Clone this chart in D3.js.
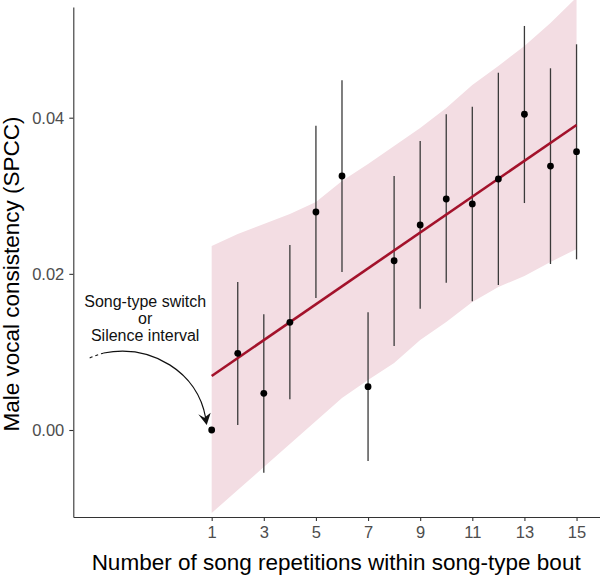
<!DOCTYPE html>
<html><head><meta charset="utf-8">
<script src="https://cdn.jsdelivr.net/npm/d3@7"></script>
<style>
html,body{margin:0;padding:0;background:#fff;}
svg{display:block;font-family:"Liberation Sans",Arial,Helvetica,sans-serif;}
</style></head>
<body><svg id="chart" width="600" height="577"></svg>
<script>
// ---- data ----
const reps      = [1,2,3,4,5,6,7,8,9,10,11,12,13,14,15];
const spcc      = [0.0000,0.00982,0.00470,0.01379,0.02792,0.03253,0.00555,0.02168,0.02626,0.02959,0.02895,0.03215,0.04044,0.03381,0.03565];
const errHigh   = [null,0.01896,0.01482,0.02370,0.03898,0.04479,0.01508,0.03253,0.03702,0.04044,0.04141,0.04576,0.05175,0.04633,0.04940];
const errLow    = [null,0.00064,-0.00547,0.00393,0.01691,0.02024,-0.00397,0.01076,0.01554,0.01887,0.01648,0.01857,0.02907,0.02126,0.02186];
const bandHigh  = [0.02357,0.02510,0.02638,0.02766,0.02920,0.03189,0.03407,0.03637,0.03868,0.04124,0.04419,0.04662,0.04919,0.05213,0.05540];
const bandLow   = [-0.01063,-0.00768,-0.00474,-0.00179,0.00115,0.00410,0.00640,0.00858,0.01153,0.01383,0.01639,0.01832,0.01972,0.02152,0.02318];
const fitX      = [1,15];
const fitY      = [0.00692,0.03907];
const xTicks    = [1,3,5,7,9,11,13,15];
const yTicks    = [0.00,0.02,0.04];
const annotationLines = ["Song-type switch","or","Silence interval"];
const xTitle = "Number of song repetitions within song-type bout";
const yTitle = "Male vocal consistency (SPCC)";

// ---- layout ----
const svg = d3.select("#chart");
const mLeft = 73.3, mRight = 600, mTop = 7, mBottom = 517;
const x = d3.scaleLinear().domain([-4.31, 15.9]).range([mLeft, mRight]);
const y = d3.scaleLinear().domain([-0.011143, 0.054179]).range([mBottom, mTop]);

// band
const bandData = reps.map((r,i)=>({r, lo: bandLow[i], hi: bandHigh[i]}));
svg.append("path")
  .datum(bandData)
  .attr("fill","#f3dde3")
  .attr("d", d3.area().x(d=>x(d.r)).y0(d=>y(d.lo)).y1(d=>y(d.hi)));

// error bars
const pts = reps.map((r,i)=>({r, v: spcc[i], lo: errLow[i], hi: errHigh[i]}));
svg.append("g").selectAll("line")
  .data(pts.filter(d=>d.lo!==null))
  .join("line")
  .attr("x1",d=>x(d.r)).attr("x2",d=>x(d.r))
  .attr("y1",d=>y(d.lo)).attr("y2",d=>y(d.hi))
  .attr("stroke","#3a3a3a").attr("stroke-width",1.3);

// fit line
svg.append("path")
  .datum(fitX.map((fx,i)=>[fx,fitY[i]]))
  .attr("fill","none").attr("stroke","#a3122b").attr("stroke-width",2.6)
  .attr("d", d3.line().x(d=>x(d[0])).y(d=>y(d[1])));

// points
svg.append("g").selectAll("circle")
  .data(pts).join("circle")
  .attr("cx",d=>x(d.r)).attr("cy",d=>y(d.v)).attr("r",3.4).attr("fill","#000");

// axes
const xAxis = d3.axisBottom(x).tickValues(xTicks).tickSize(4).tickSizeOuter(0).tickPadding(5).tickFormat(d3.format("d"));
const gx = svg.append("g").attr("transform",`translate(0,${mBottom})`).call(xAxis);
const yAxis = d3.axisLeft(y).tickValues(yTicks).tickSize(4).tickSizeOuter(0).tickPadding(5).tickFormat(d3.format(".2f"));
const gy = svg.append("g").attr("transform",`translate(${mLeft},0)`).call(yAxis);
[gx,gy].forEach(g=>{
  g.select(".domain").attr("stroke","#333").attr("stroke-width",1.1);
  g.selectAll(".tick line").attr("stroke","#333").attr("stroke-width",1.1);
  g.selectAll(".tick text").attr("fill","#4d4d4d").style("font-size","16.5px").style("font-family","'Liberation Sans',Arial,sans-serif");
});
gx.selectAll(".tick text").attr("dy","0.75em");
gy.selectAll(".tick text").attr("dy","0.35em");

// axis titles
svg.append("text").attr("x",(mLeft+mRight)/2 - 0.5).attr("y",570)
  .attr("text-anchor","middle").style("font-size","22.5px").attr("fill","#000").text(xTitle);
svg.append("text").attr("transform",`translate(19,274) rotate(-90)`)
  .attr("text-anchor","middle").style("font-size","22.5px").attr("fill","#000").text(yTitle);

// annotation
const ax0 = x(1), ay0 = y(0);
const ann = svg.append("g");
ann.selectAll("text").data(annotationLines).join("text")
  .attr("x", ax0-66.5).attr("y",(d,i)=>ay0-123.5+i*17)
  .attr("text-anchor","middle").style("font-size","16px").attr("fill","#111")
  .style("font-family","'Liberation Sans',Arial,sans-serif")
  .text(d=>d);
ann.append("path")
  .attr("d",`M${ax0-122},${ay0-72} Q${ax0-115},${ay0-75} ${ax0-108},${ay0-77}`)
  .attr("fill","none").attr("stroke","#111").attr("stroke-width",1.1).attr("stroke-dasharray","3,3");
ann.append("path")
  .attr("d",`M${ax0-108},${ay0-77} C${ax0-60},${ay0-86} ${ax0-14},${ay0-58} ${ax0-6},${ay0-12}`)
  .attr("fill","none").attr("stroke","#111").attr("stroke-width",1.2);
ann.append("path")
  .attr("d",`M${ax0-5},${ay0-5} L${ax0-13.4},${ay0-15.7} L${ax0-7.4},${ay0-12.3} L${ax0-1},${ay0-17.3} Z`)
  .attr("fill","#111");
</script>
</body></html>
